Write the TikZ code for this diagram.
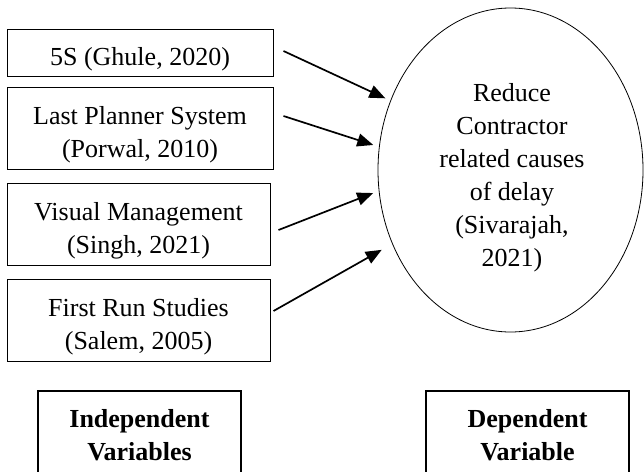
\documentclass[tikz,border=0pt]{standalone}
\usepackage{fontspec}
\setmainfont{Liberation Serif}
\usetikzlibrary{arrows.meta,shapes.geometric,calc}
\newcommand\lift{\rule{0pt}{31pt}}
\begin{document}
\begin{tikzpicture}[x=1pt,y=-1pt,>={Triangle[length=16pt,width=13pt]},
	font=\fontsize{26}{33}\selectfont,
	ivbox/.style={draw,line width=1pt,align=center,inner sep=0pt,minimum height=82pt},
	legend/.style={draw,line width=2.4pt,align=center,inner sep=0pt,minimum width=203pt,minimum height=88pt,font=\fontsize{26}{33}\selectfont\bfseries},
	arr/.style={->,line width=1.7pt}]
		\useasboundingbox (0,0) rectangle (644,471);
		\clip (0,0) rectangle (644,471);
		% independent variables
		\node[ivbox,minimum width=266pt,minimum height=47pt] (fives) at (140,52.5) {\lift 5S (Ghule, 2020)};
		\node[ivbox,minimum width=266pt] (lps) at (140,128) {\lift Last Planner System\\(Porwal, 2010)};
		\node[ivbox,minimum width=263pt] (vm) at (138.5,224) {\lift Visual Management\\(Singh, 2021)};
		\node[ivbox,minimum width=263pt] (frs) at (138.5,320) {\lift First Run Studies\\(Salem, 2005)};
		% dependent variable
		\node[draw,ellipse,line width=0.8pt,inner sep=0pt,minimum width=265pt,minimum height=324pt] (delay) at (510.5,170) {};
		\node[align=center] (delaytxt) at (512,178) {Reduce\\Contractor\\related causes\\of delay\\(Sivarajah,\\2021)};
		% arrows
		\draw[arr,shorten >=5.5pt] ($(fives.east)+(10,-1.5)$) -- (delay.150);
		\draw[arr,shorten >=6pt] ($(lps.east)+(10,-12)$) -- (delay.170.9);
		\draw[arr,shorten >=6pt] ($(vm.east)+(8,6)$) -- (delay.189.1);
		\draw[arr,shorten >=12pt] ($(frs.east)+(3,-9)$) -- (delay.212.5);
		% legend
		\node[legend] (indep) at (139.5,435) {Independent\\Variables};
		\node[legend] (dep) at (527.5,435) {Dependent\\Variable};
	\end{tikzpicture}
\end{document}
